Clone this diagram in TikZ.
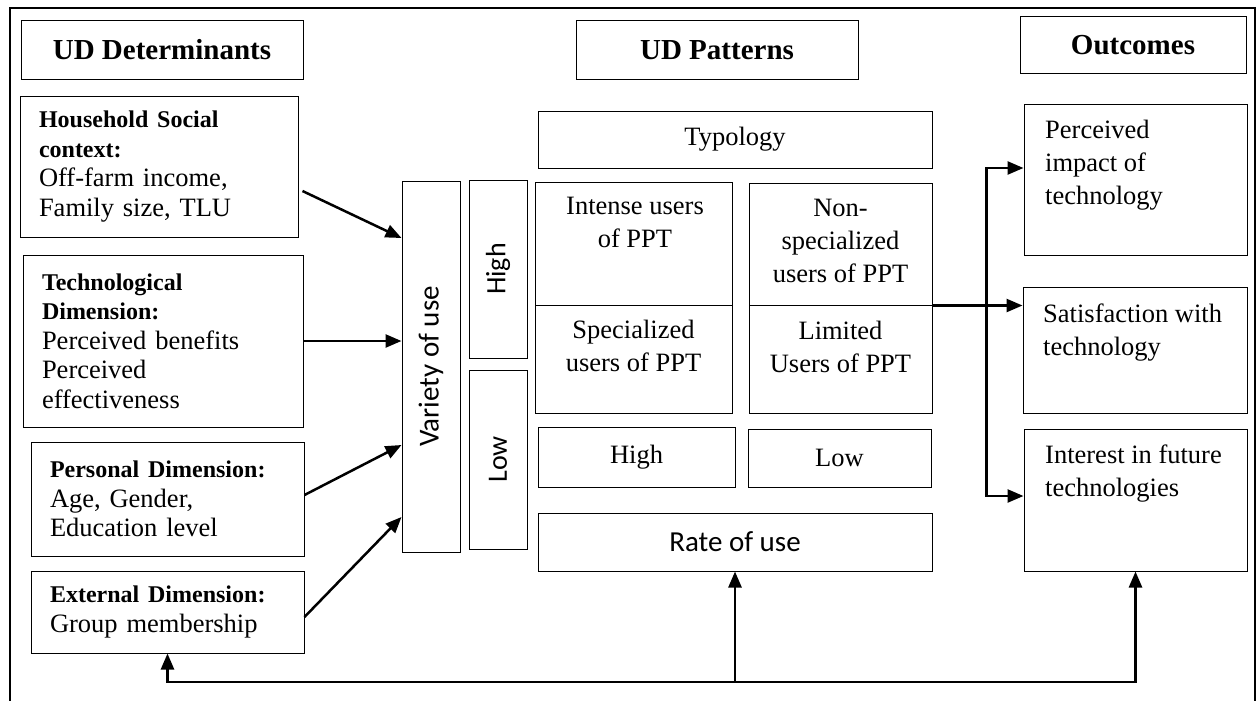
\documentclass[tikz,border=0pt]{standalone}
\usepackage{fontspec}
\setmainfont{Liberation Serif}
\newfontfamily\calfont{Carlito}
\usetikzlibrary{arrows.meta,calc}
\newcommand\boldlab[1]{{\fontsize{24}{29.5}\selectfont\bfseries #1}}
\begin{document}
\begin{tikzpicture}[x=1pt,y=-1pt,
  box/.style={draw=black,line width=1pt,inner sep=0pt},
  head/.style={box,font=\fontsize{29}{33}\selectfont\bfseries},
  ctext/.style={box,font=\fontsize{26.5}{33}\selectfont},
  sans/.style={box,font=\fontsize{29}{33}\selectfont\calfont},
  lbox/.style={box,align=left,inner xsep=19pt,font=\fontsize{26.5}{29.5}\selectfont},
  ttext/.style={inner sep=0pt,font=\fontsize{26.5}{33}\selectfont},
  arr/.style={line width=2.5pt,-{Triangle[length=16pt,width=13pt]}}
]
\useasboundingbox (0,0) rectangle (1258,701);
% frame
\draw[line width=2pt] (10,710) -- (10,8) -- (1255,8) -- (1255,710);

% headers
\node[head,minimum width=282pt,minimum height=58pt] (hdet) at (162,50) {UD Determinants};
\node[head,minimum width=282pt,minimum height=58pt] (hpat) at (717,50) {UD Patterns};
\node[head,minimum width=226pt,minimum height=57pt] (hout) at (1133,45.5) {Outcomes};

% determinants
\node[lbox,text width=240pt,minimum height=141pt] (hh) at (159,166.5)
  {\boldlab{Household Social}\\\boldlab{context:}\\Off-farm income,\\Family size, TLU};
\node[lbox,text width=242pt,minimum height=172pt] (tech) at (163,341)
  {\boldlab{Technological}\\\boldlab{Dimension:}\\Perceived benefits\\Perceived\\effectiveness};
\node[lbox,text width=235pt,minimum height=114pt] (pers) at (167.5,499)
  {\boldlab{Personal Dimension:}\\Age, Gender,\\Education level};
\node[lbox,text width=235pt,minimum height=82pt] (ext) at (167.5,612)
  {\boldlab{External Dimension:}\\Group membership};

% variety of use
\node[sans,minimum width=58pt,minimum height=371pt] (var) at (431,366.5) {\rotatebox{90}{Variety of use}};
\node[sans,font=\fontsize{28}{33}\selectfont\calfont,minimum width=58pt,minimum height=178pt] (vhigh) at (498,269) {\rotatebox{90}{High}};
\node[sans,font=\fontsize{28}{33}\selectfont\calfont,minimum width=58pt,minimum height=179pt] (vlow) at (498,459.5) {\rotatebox{90}{Low}};

% patterns
\node[ctext,minimum width=394pt,minimum height=57pt] (typ) at (735,139.5) {Typology};
\node[box,minimum width=197pt,minimum height=123pt] (intense) at (633.5,243.5) {};
\node[box,minimum width=197pt,minimum height=108pt] (spec) at (633.5,359) {};
\node[box,minimum width=183pt,minimum height=122pt] (nonspec) at (840.5,244) {};
\node[box,minimum width=183pt,minimum height=108pt] (lim) at (840.5,359) {};
\node[ttext,align=center,anchor=north] (intenset) at (635,197) {Intense users\\of PPT};
\node[ttext,align=center,anchor=north] (spect) at (633.5,320) {Specialized\\users of PPT};
\node[ttext,align=center,anchor=north] (nonspect) at (840.5,199) {Non-\\specialized\\users of PPT};
\node[ttext,align=center,anchor=north] (limt) at (840.5,321) {Limited\\Users of PPT};
\node[ctext,minimum width=197pt,minimum height=60pt] (rhigh) at (636.5,457) {High};
\node[ctext,minimum width=183pt,minimum height=58pt] (rlow) at (839.5,458) {Low};
\node[sans,minimum width=394pt,minimum height=58pt] (rate) at (735,542) {Rate of use};

% outcomes
\node[box,minimum width=223pt,minimum height=151pt] (imp) at (1135.5,179.5) {};
\node[box,minimum width=224pt,minimum height=126pt] (sat) at (1135,350) {};
\node[box,minimum width=223pt,minimum height=142pt] (int) at (1135.5,500) {};
\node[ttext,align=left,anchor=north west] (impt) at (1045,120) {Perceived\\impact of\\technology};
\node[ttext,align=left,anchor=north west] (satt) at (1043,304) {Satisfaction with\\technology};
\node[ttext,align=left,anchor=north west] (intt) at (1045,445) {Interest in future\\technologies};

% arrows into variety of use
\draw[arr] ([shift={(4pt,-24.5pt)}]hh.east) -- ([yshift=128.5pt]var.west);
\draw[arr] (tech.east) -- (var.west |- tech.east);
\draw[arr] ([yshift=4pt]pers.east) -- ([yshift=-78.5pt]var.west);
\draw[arr] ([yshift=-5pt]ext.east) -- ([yshift=-150.5pt]var.west);

% patterns to outcomes
\draw[arr] (nonspec.south east) -- (sat.west |- nonspec.south east);
\coordinate (vx) at ($(nonspec.south east)!0.6!(sat.west |- nonspec.south east)$);
\draw[arr] (vx) |- ([yshift=11.5pt]imp.west);
\draw[arr] (vx) |- ([yshift=4pt]int.west);

% bottom feedback
\coordinate (bot) at (rate.south |- 0,682);
\draw[arr] (bot) -- (rate.south);
\draw[arr] (bot) -| (ext.south);
\draw[arr] (bot) -| (int.south);
\end{tikzpicture}
\end{document}
